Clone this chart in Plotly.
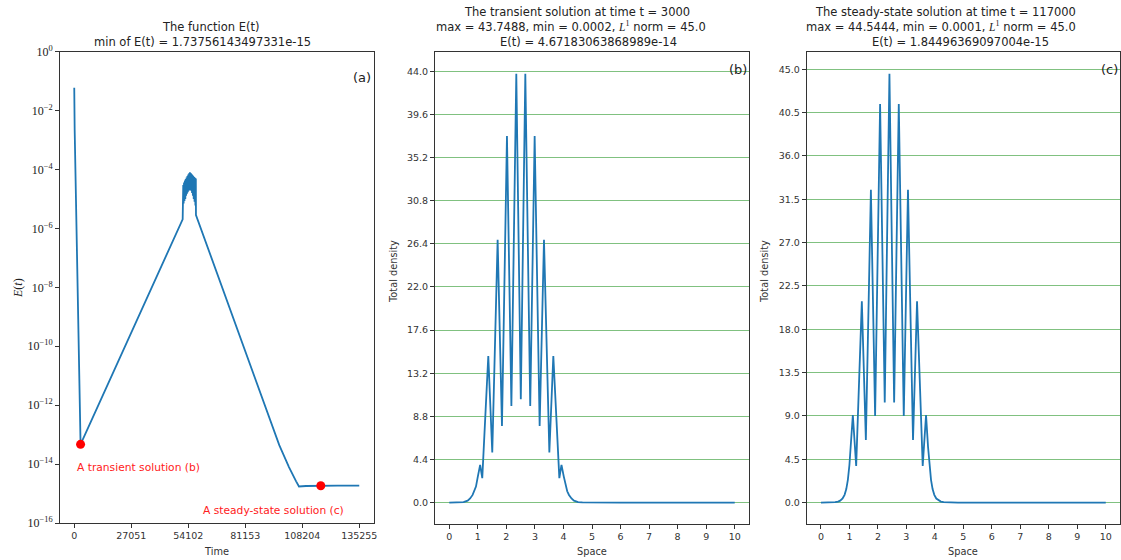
import plotly.graph_objects as go

W, H = 1121, 560

# ---------------- data ----------------
# Panel (a): E(t)
t_start = [0, 40, 80, 120, 160, 200, 3000]
E_start = [6e-2, 2.2e-3, 5e-2, 2.5e-3, 3e-2, 2.2e-3, 4.67183063868989e-14]
t_rise = [50166, 51450]
E_rise = [1.30e-6, 2.04e-6]
t_band = [51730, 51900, 52100, 52300, 52500, 52700, 52900, 53100, 53300, 53500,
          53700, 53900, 54100, 54300, 54500, 54700, 54900, 55100, 55300, 55500,
          55700, 55900, 56100, 56300, 56500, 56700, 56900, 57100, 57300, 57500, 57700]
E_band = [3.0e-5, 7.0e-6, 3.6e-5, 8.5e-6, 4.2e-5, 1.0e-5, 4.8e-5, 1.3e-5, 5.4e-5, 1.5e-5,
          6.0e-5, 1.7e-5, 6.8e-5, 1.9e-5, 7.5e-5, 2.0e-5, 8.0e-5, 2.0e-5, 7.6e-5, 1.9e-5,
          7.0e-5, 1.6e-5, 6.5e-5, 1.3e-5, 6.0e-5, 1.0e-5, 5.6e-5, 8.0e-6, 5.3e-5, 6.0e-6, 5.0e-5]
t_fall = [57760, 97300, 101900, 105300, 106650, 110000, 117000, 125000, 135255]
E_fall = [2.85e-6, 4.4e-14, 7.9e-15, 2.6e-15, 1.74e-15, 1.80e-15, 1.845e-15, 1.85e-15, 1.85e-15]

time_vals = t_start + t_rise + t_band + t_fall
E_vals = E_start + E_rise + E_band + E_fall

marker_t = [3000, 117000]
marker_E = [4.67183063868989e-14, 1.84496369097004e-15]

time_ticks = [0, 27051, 54102, 81153, 108204, 135255]
log_ticks = [1e0, 1e-2, 1e-4, 1e-6, 1e-8, 1e-10, 1e-12, 1e-14, 1e-16]
log_tick_text = ["10<sup>0</sup>", "10<sup>−2</sup>", "10<sup>−4</sup>", "10<sup>−6</sup>",
                 "10<sup>−8</sup>", "10<sup>−10</sup>", "10<sup>−12</sup>",
                 "10<sup>−14</sup>", "10<sup>−16</sup>"]

# Panel (b): transient solution t = 3000
space_b = [0, 0.2, 0.35, 0.5, 0.643, 0.73, 0.818, 0.88, 0.935, 1.0,
           1.081, 1.156, 1.367, 1.506, 1.694, 1.846, 2.021, 2.176, 2.348, 2.506,
           2.664, 2.836, 2.991, 3.166, 3.318, 3.506, 3.645, 3.856, 3.931,
           4.012, 4.077, 4.132, 4.194, 4.282, 4.369, 4.512, 4.662, 4.812, 5.012,
           6, 7, 8, 9, 10]
density_b = [0.0002, 0.001, 0.01, 0.05, 0.2, 0.42, 0.78, 1.15, 1.63, 2.65,
             3.84, 2.49, 14.95, 5.1, 26.8, 7.82, 37.4, 9.86, 43.7488, 10.54,
             43.7488, 9.86, 37.4, 7.82, 26.8, 5.1, 14.95, 2.49, 3.84,
             2.65, 1.63, 1.15, 0.78, 0.42, 0.2, 0.05, 0.01, 0.001, 0.0002,
             0.0002, 0.0002, 0.0002, 0.0002, 0.0002]
yticks_b = [0.0, 4.4, 8.8, 13.2, 17.6, 22.0, 26.4, 30.8, 35.2, 39.6, 44.0]

# Panel (c): steady-state solution t = 117000
space_c = [0, 0.2, 0.35, 0.5, 0.6, 0.677, 0.76, 0.83, 0.89, 0.945, 1.0, 1.05,
           1.12, 1.237, 1.436, 1.577, 1.754, 1.902, 2.077, 2.24, 2.405,
           2.57, 2.733, 2.908, 3.056, 3.233, 3.374, 3.573, 3.69,
           3.76, 3.81, 3.865, 3.92, 3.98, 4.05, 4.133, 4.21, 4.31, 4.46, 4.61, 4.81,
           6, 7, 8, 9, 10]
density_c = [0.0001, 0.001, 0.008, 0.04, 0.1, 0.2, 0.42, 0.8, 1.4, 2.36, 3.9, 5.8,
             9.1, 3.81, 20.9, 6.5, 32.5, 9.0, 41.4, 10.4, 44.5444,
             10.4, 41.4, 9.0, 32.5, 6.5, 20.9, 3.81, 9.1,
             5.8, 3.9, 2.36, 1.4, 0.8, 0.42, 0.2, 0.1, 0.04, 0.008, 0.001, 0.0001,
             0.0001, 0.0001, 0.0001, 0.0001, 0.0001]
yticks_c = [0.0, 4.5, 9.0, 13.5, 18.0, 22.5, 27.0, 31.5, 36.0, 40.5, 45.0]

space_ticks = list(range(0, 11))

# ---------------- helpers ----------------
def fx(px):
    return px / W

def fy(py):
    return 1 - py / H

SANS = "DejaVu Sans"
SERIF = "Liberation Serif"
BLUE = "#1f77b4"
AX = "#333333"
GRID = "rgba(50,155,50,0.62)"

fig = go.Figure()

fig.add_trace(go.Scatter(x=time_vals, y=E_vals, mode="lines",
                         line=dict(color=BLUE, width=1.8),
                         xaxis="x", yaxis="y", showlegend=False, hoverinfo="skip"))
fig.add_trace(go.Scatter(x=marker_t, y=marker_E, mode="markers",
                         marker=dict(color="red", size=9),
                         xaxis="x", yaxis="y", showlegend=False, hoverinfo="skip"))
fig.add_trace(go.Scatter(x=space_b, y=density_b, mode="lines",
                         line=dict(color=BLUE, width=1.8),
                         xaxis="x2", yaxis="y2", showlegend=False, hoverinfo="skip"))
fig.add_trace(go.Scatter(x=space_c, y=density_c, mode="lines",
                         line=dict(color=BLUE, width=1.8),
                         xaxis="x3", yaxis="y3", showlegend=False, hoverinfo="skip"))

TICKSIZE = 9.5

common_x = dict(showline=True, mirror=True, linecolor=AX, linewidth=1,
                ticks="outside", ticklen=4, tickwidth=1, tickcolor=AX,
                showgrid=False, zeroline=False, automargin=False,
                tickfont=dict(family=SANS, size=TICKSIZE, color=AX))

common_y = dict(showline=True, mirror=True, linecolor=AX, linewidth=1,
                ticks="outside", ticklen=4, tickwidth=1, tickcolor=AX,
                zeroline=False, automargin=False)

xd_a = [fx(60), fx(373.5)]
xd_b = [fx(435), fx(749)]
xd_c = [fx(806.7), fx(1120)]
yd_a = [fy(523), fy(51.7)]
yd_bc = [fy(524), fy(52.3)]

fig.update_layout(
    width=W, height=H, margin=dict(l=0, r=0, t=0, b=0, pad=0),
    plot_bgcolor="white", paper_bgcolor="white",
    xaxis=dict(domain=xd_a, range=[-6763, 142018], tickvals=time_ticks,
               ticktext=[str(v) for v in time_ticks], anchor="y", **common_x),
    yaxis=dict(domain=yd_a, type="log", range=[-16, 0], tickvals=log_ticks,
               ticktext=log_tick_text, anchor="x", showgrid=False,
               tickfont=dict(family=SERIF, size=12, color="#222"), **common_y),
    xaxis2=dict(domain=xd_b, range=[-0.5, 10.5], tickvals=space_ticks,
                anchor="y2", **common_x),
    yaxis2=dict(domain=yd_bc, range=[-2.187, 45.937], tickvals=yticks_b,
                ticktext=["%.1f" % v for v in yticks_b], anchor="x2",
                showgrid=True, gridcolor=GRID, gridwidth=1,
                tickfont=dict(family=SANS, size=TICKSIZE, color=AX), **common_y),
    xaxis3=dict(domain=xd_c, range=[-0.5, 10.5], tickvals=space_ticks,
                anchor="y3", **common_x),
    yaxis3=dict(domain=yd_bc, range=[-2.227, 46.77], tickvals=yticks_c,
                ticktext=["%.1f" % v for v in yticks_c], anchor="x3",
                showgrid=True, gridcolor=GRID, gridwidth=1,
                tickfont=dict(family=SANS, size=TICKSIZE, color=AX), **common_y),
)

def ann(text, x, y, size=11.5, color="#222", family=SANS, xanchor="center",
        yanchor="middle", angle=0):
    fig.add_annotation(text=text, x=fx(x), y=fy(y), xref="paper", yref="paper",
                       xanchor=xanchor, yanchor=yanchor, showarrow=False,
                       textangle=angle,
                       font=dict(family=family, size=size, color=color))

L1 = '<span style="font-family:Liberation Serif"><i>L</i><sup>1</sup></span>'

# titles
ann("The function E(t)", 210.5, 27)
ann("min of E(t) = 1.73756143497331e-15", 202.5, 42)
ann("The transient solution at time t = 3000", 577, 12.3)
ann("max = 43.7488, min = 0.0002, " + L1 + " norm = 45.0", 570.5, 26.7)
ann("E(t) = 4.67183063868989e-14", 588.8, 41.7)
ann("The steady-state solution at time t = 117000", 945.5, 12.3)
ann("max = 44.5444, min = 0.0001, " + L1 + " norm = 45.0", 941.3, 26.7)
ann("E(t) = 1.84496369097004e-15", 960, 41.7)

# panel labels
ann("(a)", 373, 78, size=13, color="#222", xanchor="right")
ann("(b)", 749, 69.5, size=13, color="#222", xanchor="right")
ann("(c)", 1119.5, 69.5, size=13, color="#222", xanchor="right")

# axis titles
ann("Time", 216.7, 551, size=9.8, color="#333")
ann("Space", 592, 551, size=9.8, color="#333")
ann("Space", 963, 551, size=9.8, color="#333")
ann("<i>E</i>(<i>t</i>)", 18, 288, size=12, family=SERIF, angle=-90)
ann("Total density", 393, 272, size=9.8, color="#333", angle=-90)
ann("Total density", 764, 272, size=9.8, color="#333", angle=-90)

# red annotations
ann("A transient solution (b)", 75, 467.7, size=10.7, color="#ff2020", xanchor="left")
ann("A steady-state solution (c)", 201, 510.3, size=10.7, color="#ff2020", xanchor="left")

fig.write_html("out.html")
